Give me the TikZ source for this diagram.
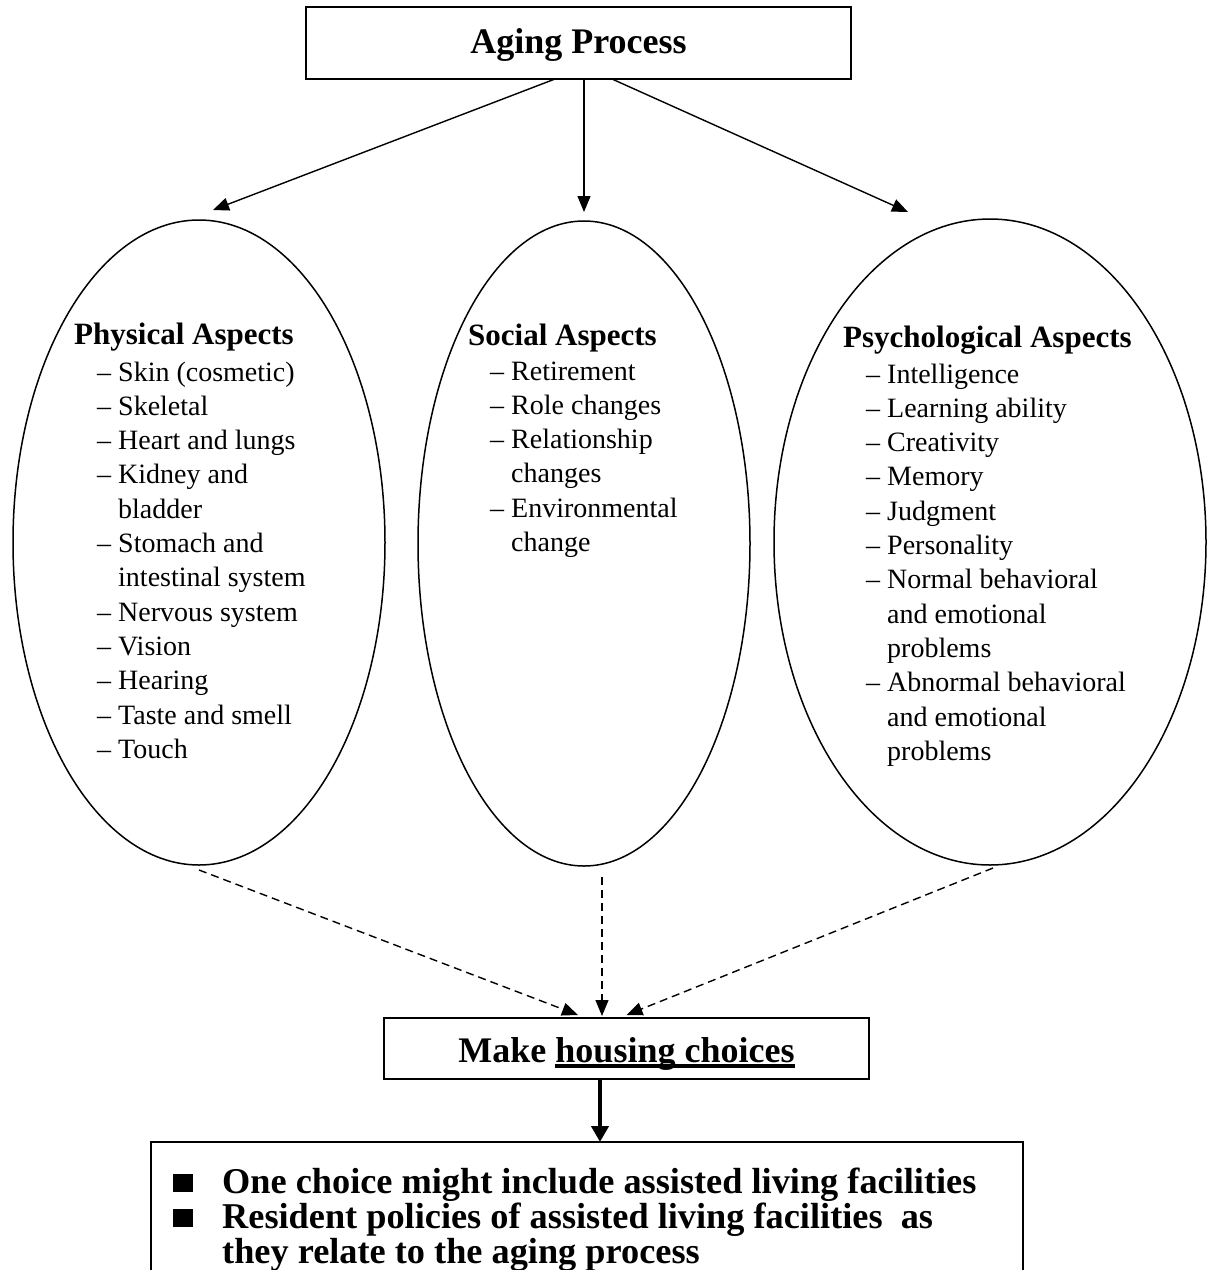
\documentclass[tikz,border=0pt]{standalone}
\usepackage{fontspec}
\setmainfont{Liberation Serif}
\usepackage{tikz}
\usetikzlibrary{positioning,shapes.geometric,arrows.meta,calc}

\newcommand{\thickul}[1]{\setbox0\hbox{#1}\rlap{\rule[-5.5pt]{\wd0}{4pt}}\box0}
\newcommand{\sqbullet}{\makebox[49pt][l]{\rule[1pt]{20pt}{18pt}}}
\newcommand{\cont}{\hphantom{--\ }}

\begin{document}
\begin{tikzpicture}[x=1pt, y=-1pt]
        \tikzset{
          titlebox/.style={draw, line width=1.6pt, inner sep=0pt, outer sep=0pt,
                           font=\fontsize{36}{40}\selectfont\bfseries},
          aspect/.style={ellipse, draw, line width=1.5pt, inner sep=0pt, outer sep=0pt},
          heading/.style={anchor=base west, inner sep=0pt,
                          font=\fontsize{31}{34}\selectfont\bfseries},
          item/.style={anchor=base west, inner sep=0pt, font=\fontsize{28}{34}\selectfont},
          bigline/.style={anchor=base west, inner sep=0pt,
                          font=\fontsize{36.3}{40}\selectfont\bfseries},
          link/.style={line width=1.4pt, -{Triangle[length=16pt,width=13pt]}},
          influence/.style={line width=1.4pt, dash pattern=on 8pt off 5pt,
                            -{Triangle[length=16pt,width=13pt]}}
        }
        \useasboundingbox (0,0) rectangle (1207,1270);
        \clip (0,0) rectangle (1207,1270);
        % Top box
        \node[titlebox, minimum width=545pt, minimum height=72pt,
              text height=24pt, text depth=4pt] (aging) at (578.5,43) {Aging Process};
        % Aspect ellipses
        \node[aspect, minimum width=372pt, minimum height=645pt] (physical) at (199,542.5) {};
        \node[aspect, minimum width=332pt, minimum height=645pt] (social) at (584,543.5) {};
        \node[aspect, minimum width=432pt, minimum height=646pt] (psych) at (990,542) {};
        % Physical aspects
        \node[heading] (physhead) at (74,344) {Physical Aspects};
        \foreach \txt [count=\i] in {{-- Skin (cosmetic)}, {-- Skeletal}, {-- Heart and lungs},
            {-- Kidney and}, {\cont bladder}, {-- Stomach and}, {\cont intestinal system},
            {-- Nervous system}, {-- Vision}, {-- Hearing}, {-- Taste and smell}, {-- Touch}} {
          \node[item] (phys\i) at (97,{381+34.3*(\i-1)}) {\txt};
        }
        % Social aspects
        \node[heading] (sochead) at (468,345) {Social Aspects};
        \foreach \txt [count=\i] in {{-- Retirement}, {-- Role changes}, {-- Relationship},
            {\cont changes}, {-- Environmental}, {\cont change}} {
          \node[item] (soc\i) at (490,{380+34.3*(\i-1)}) {\txt};
        }
        % Psychological aspects
        \node[heading] (psyhead) at (843,347) {Psychological Aspects};
        \foreach \txt [count=\i] in {{-- Intelligence}, {-- Learning ability}, {-- Creativity},
            {-- Memory}, {-- Judgment}, {-- Personality}, {-- Normal behavioral},
            {\cont and emotional}, {\cont problems}, {-- Abnormal behavioral},
            {\cont and emotional}, {\cont problems}} {
          \node[item] (psy\i) at (866,{383+34.3*(\i-1)}) {\txt};
        }
        % Arrows from the top box
        \draw[link] ([xshift=-23.5pt]aging.south) -- ([xshift=14pt,yshift=10pt]physical.north);
        \draw[link] ([xshift=5.5pt]aging.south) -- ([yshift=9pt]social.north);
        \draw[link] ([xshift=33.5pt]aging.south) -- ([xshift=-82pt,yshift=7pt]psych.north);
        % Housing choices
        \node[titlebox, minimum width=485pt, minimum height=61pt,
              text height=30pt, text depth=3pt] (housing) at (626.5,1048.5)
              {Make \thickul{housing choices}};
        \draw[influence] ([yshift=-5pt]physical.south) -- ([xshift=-48.5pt,yshift=3pt]housing.north);
        \draw[influence] ([xshift=18pt,yshift=-11pt]social.south) -- ([xshift=-24.5pt,yshift=2pt]housing.north);
        \draw[influence] ([xshift=3pt,yshift=-3pt]psych.south) -- ([yshift=3pt]housing.north);
        % Bottom box
        \node[draw, line width=1.6pt, minimum width=872pt, minimum height=300pt,
              inner sep=0pt, outer sep=0pt] (policies) at (587,1292) {};
        \draw[line width=4pt, -{Triangle[length=16pt,width=17pt]}]
          ([xshift=-26.5pt]housing.south) -- ([xshift=13pt]policies.north);
        \node[bigline] (choice1) at (173,1193) {\sqbullet One choice might include assisted living facilities};
        \node[bigline] (choice2) at (173,1228) {\sqbullet Resident policies of assisted living facilities\ \ as};
        \node[bigline] (choice3) at (222,1263) {they relate to the aging process};
      \end{tikzpicture}
\end{document}
